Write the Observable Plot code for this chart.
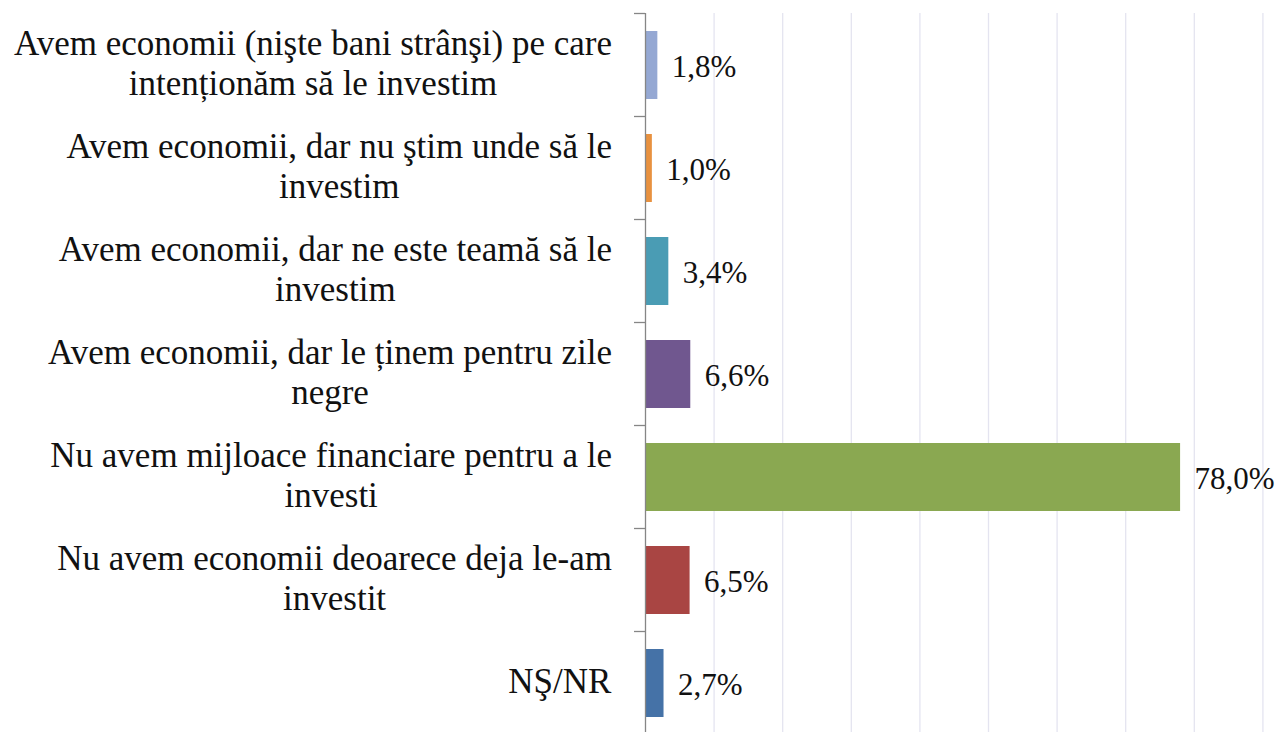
<!DOCTYPE html>
<html><head><meta charset="utf-8">
<script src="https://cdn.jsdelivr.net/npm/d3@7"></script>
<script src="https://cdn.jsdelivr.net/npm/@observablehq/plot@0.6"></script>
<style>html,body{margin:0;padding:0;background:#fff;overflow:hidden} svg{display:block}</style>
</head><body><div id="chart"></div>
<script>
const categories = [
  "Avem economii (nişte bani strânşi) pe care\nintenționăm să le investim",
  "Avem economii, dar nu ştim unde să le\ninvestim",
  "Avem economii, dar ne este teamă să le\ninvestim",
  "Avem economii, dar le ținem pentru zile\nnegre",
  "Nu avem mijloace financiare pentru a le\ninvesti",
  "Nu avem economii deoarece deja le-am\ninvestit",
  "NŞ/NR"
];
const values = [1.8, 1.0, 3.4, 6.6, 78.0, 6.5, 2.7];
const colors = ["#95a8d3", "#e8913f", "#4a9cb4", "#70578f", "#8aa851", "#a94543", "#4572a7"];
const xGrid = [10, 20, 30, 40, 50, 60, 70, 80, 90];

const data = categories.map((c, i) => ({category: c, value: values[i], color: colors[i]}));
const font = "'Liberation Serif', 'Times New Roman', serif";

const chart = Plot.plot({
  width: 1281, height: 732,
  marginLeft: 645, marginRight: 18.6, marginTop: 13, marginBottom: -2,
  x: {domain: [0, 90], axis: null},
  y: {domain: categories, axis: null, paddingInner: 0.34, paddingOuter: 0.17},
  color: {type: "identity"},
  style: {fontFamily: font, fontSize: "31px", background: "#fff", color: "#111"},
  marks: [
    Plot.ruleX(xGrid, {stroke: "#e4e4f0", strokeWidth: 1.3}),
    Plot.barX(data, {x: "value", y: "category", fill: "color"}),
    Plot.ruleX([0], {stroke: "#868686", strokeWidth: 1.3}),
    Plot.text(data, {x: "value", y: "category", text: d => d.value.toFixed(1).replace(".", ",") + "%",
      textAnchor: "start", dx: 14, dy: 2, fill: "#111", fontSize: 31}),
    Plot.text(data, {x: d => 0, y: "category", text: "category", textAnchor: "middle",
      lineHeight: 1.143, fontSize: 35, dy: -3, fill: "#111", className: "cat-label"})
  ]
});
document.getElementById("chart").appendChild(chart);

const xs = chart.scale("x"), ys = chart.scale("y");
const x0 = xs.apply(0);
const bw = ys.bandwidth;
const step = ys.step ?? (ys.apply(categories[1]) - ys.apply(categories[0]));
const bounds = categories.map(c => ys.apply(c) - (step - bw) / 2);
bounds.push(bounds[bounds.length - 1] + step);
d3.select(chart).append("g").selectAll("line").data(bounds).join("line")
  .attr("x1", x0 - 11).attr("x2", x0).attr("y1", d => d).attr("y2", d => d)
  .attr("stroke", "#868686").attr("stroke-width", 1.3);

// right-align the centered label blocks next to the axis
const target = x0 - 33;
const svgLeft = chart.getBoundingClientRect().left;
d3.select(chart).selectAll("g.cat-label text").each(function() {
  const r = this.getBoundingClientRect();
  const shift = target - (r.right - svgLeft);
  const t = this.getAttribute("transform") || "";
  this.setAttribute("transform", `translate(${shift},0) ` + t);
});
</script>
</body></html>
